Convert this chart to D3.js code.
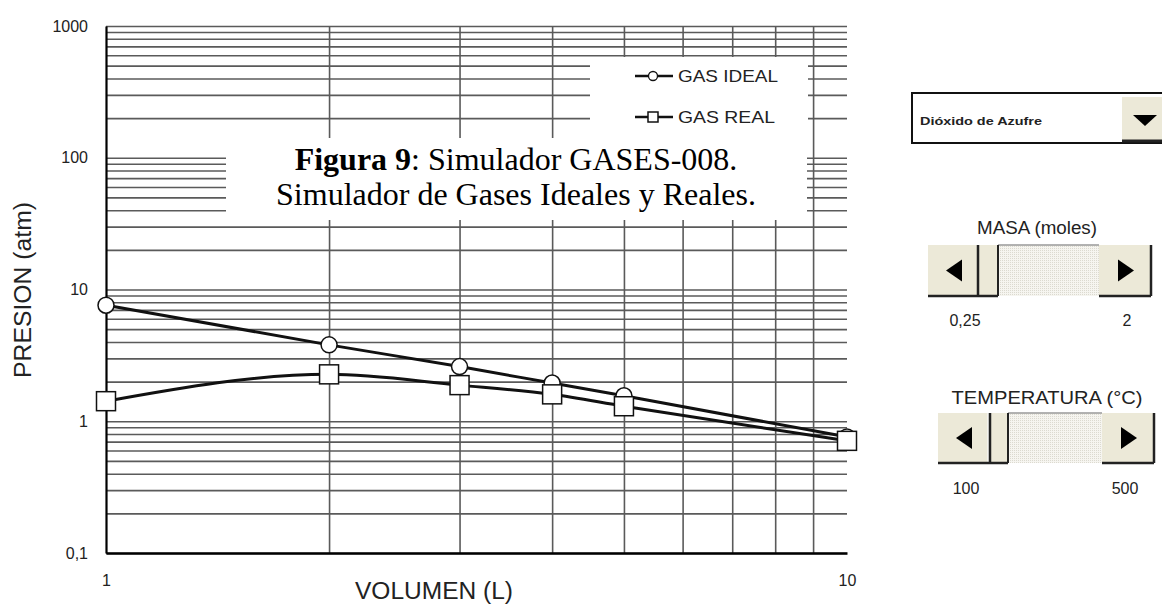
<!DOCTYPE html>
<html><head><meta charset="utf-8">
<script src="https://cdn.jsdelivr.net/npm/d3@7"></script>
<style>body{margin:0;background:#fff}svg{display:block}</style>
</head><body>
<svg id="c" width="1162" height="605"></svg>
<script>
const volumes=[1,2,3,4,5,10];
const idealP=[7.6,3.8,2.6,1.95,1.56,0.76];
const realP=[1.42,2.27,1.88,1.6,1.3,0.71];
const yTicks=[0.1,1,10,100,1000];
const yTickLabels=["0,1","1","10","100","1000"];
const xTicks=[1,10];
const xTickLabels=["1","10"];
const seriesNames=["GAS IDEAL","GAS REAL"];
const xTitle="VOLUMEN (L)";
const yTitle="PRESION (atm)";
const captionBold="Figura 9";
const captionRest=": Simulador GASES-008.";
const captionLine2="Simulador de Gases Ideales y Reales.";
const gasName="Dióxido de Azufre";
const masaTitle="MASA (moles)";
const masaRange=["0,25","2"];
const tempTitle="TEMPERATURA (°C)";
const tempRange=["100","500"];

const svg=d3.select("#c");
const L=106,R=847,T=26,B=553;
const x=d3.scaleLog().domain([1,10]).range([L,R]);
const y=d3.scaleLog().domain([0.1,1000]).range([B,T]);
const SANS="'Liberation Sans',Arial,sans-serif";

// grid values
const hVals=[];
[0.1,1,10,100].forEach(d=>{for(let k=1;k<=9;k++)hVals.push(+(d*k).toPrecision(3));});
hVals.push(1000);
const vVals=[2,3,4,5,6,7,8,9];

const grid=svg.append("g");
grid.append("g").attr("transform",`translate(${L},0)`)
  .call(d3.axisLeft(y).tickValues(hVals).tickSize(-(R-L)).tickFormat(""))
  .call(g=>g.select(".domain").remove())
  .call(g=>g.selectAll("line").attr("stroke","#5a5a5a").attr("stroke-width",1.6));
grid.append("g").attr("transform",`translate(0,${B})`)
  .call(d3.axisBottom(x).tickValues(vVals).tickSize(-(B-T)).tickFormat(""))
  .call(g=>g.select(".domain").remove())
  .call(g=>g.selectAll("line").attr("stroke","#5a5a5a").attr("stroke-width",1.6));

// legend box and caption box (white covers)
svg.append("rect").attr("x",590).attr("y",57).attr("width",218).attr("height",90).attr("fill","#fff");
svg.append("rect").attr("x",226).attr("y",138).attr("width",581).attr("height",82).attr("fill","#fff");

// axes
const ya=svg.append("g").attr("transform",`translate(${L},0)`)
  .call(d3.axisLeft(y).tickValues(yTicks).tickSize(0).tickPadding(18).tickFormat((d,i)=>yTickLabels[i]));
ya.select(".domain").attr("stroke","#000").attr("stroke-width",2.2);
ya.selectAll("text").attr("font-family",SANS).attr("font-size",16).attr("fill","#222");
const xa=svg.append("g").attr("transform",`translate(0,${B})`)
  .call(d3.axisBottom(x).tickValues(xTicks).tickSize(0).tickPadding(22).tickFormat((d,i)=>xTickLabels[i]));
xa.select(".domain").attr("stroke","#000").attr("stroke-width",2.5);
xa.selectAll("text").attr("font-family",SANS).attr("font-size",16).attr("fill","#222");

// titles
svg.append("text").attr("x",434).attr("y",599).attr("text-anchor","middle")
  .attr("font-family",SANS).attr("font-size",23).attr("fill","#222")
  .attr("textLength",158).attr("lengthAdjust","spacingAndGlyphs").text(xTitle);
svg.append("text").attr("transform","translate(31,290) rotate(-90)").attr("text-anchor","middle")
  .attr("font-family",SANS).attr("font-size",23).attr("fill","#222")
  .attr("textLength",176).attr("lengthAdjust","spacingAndGlyphs").text(yTitle);

// series
const line=d3.line().x(d=>x(d[0])).y(d=>y(d[1])).curve(d3.curveMonotoneX);
const idealData=volumes.map((v,i)=>[v,idealP[i]]);
const realData=volumes.map((v,i)=>[v,realP[i]]);
[idealData,realData].forEach(dat=>{
  svg.append("path").datum(dat).attr("d",line).attr("fill","none")
    .attr("stroke","#111").attr("stroke-width",3);
});
svg.append("g").selectAll("circle").data(idealData).join("circle")
  .attr("cx",d=>x(d[0])).attr("cy",d=>y(d[1])).attr("r",8)
  .attr("fill","#fff").attr("stroke","#111").attr("stroke-width",1.5);
svg.append("g").selectAll("rect").data(realData).join("rect")
  .attr("x",d=>x(d[0])-9.5).attr("y",d=>y(d[1])-9.5).attr("width",19).attr("height",19)
  .attr("fill","#fff").attr("stroke","#111").attr("stroke-width",1.5);

// legend
const lg=svg.append("g");
[76,117].forEach((ly,i)=>{
  lg.append("line").attr("x1",635).attr("x2",673).attr("y1",ly).attr("y2",ly).attr("stroke","#111").attr("stroke-width",2.5);
  if(i===0) lg.append("circle").attr("cx",653).attr("cy",ly).attr("r",4.5).attr("fill","#fff").attr("stroke","#111").attr("stroke-width",1.3);
  else lg.append("rect").attr("x",648).attr("y",ly-5).attr("width",10).attr("height",10).attr("fill","#fff").attr("stroke","#111").attr("stroke-width",1.5);
  lg.append("text").attr("x",678).attr("y",ly).attr("dy","0.36em").attr("font-family",SANS).attr("font-size",17)
    .attr("fill","#222").attr("textLength",i===0?100:97).attr("lengthAdjust","spacingAndGlyphs").text(seriesNames[i]);
});

// caption
const cap=svg.append("text").attr("x",516).attr("y",170).attr("text-anchor","middle")
  .attr("font-family","'Liberation Serif','Times New Roman',serif").attr("font-size",32).attr("fill","#000");
cap.append("tspan").attr("font-weight","bold").text(captionBold);
cap.append("tspan").text(captionRest);
svg.append("text").attr("x",516).attr("y",205).attr("text-anchor","middle")
  .attr("font-family","'Liberation Serif','Times New Roman',serif").attr("font-size",32).attr("fill","#000")
  .text(captionLine2);

// right panel: dropdown
const dd=svg.append("g");
dd.append("rect").attr("x",912).attr("y",93).attr("width",260).attr("height",50).attr("fill","#fff").attr("stroke","#111").attr("stroke-width",2);
dd.append("rect").attr("x",1122).attr("y",97).attr("width",45).attr("height",43).attr("fill","#ece9d8");
dd.append("line").attr("x1",1122).attr("x2",1162).attr("y1",141).attr("y2",141).attr("stroke","#222").attr("stroke-width",3);
dd.append("path").attr("d","M1133,115 L1157,115 L1145,126 Z").attr("fill","#000");
dd.append("text").attr("x",920).attr("y",121).attr("dy","0.35em").attr("font-family",SANS).attr("font-size",11)
  .attr("font-weight","bold").attr("fill","#222").attr("textLength",122).attr("lengthAdjust","spacingAndGlyphs").text(gasName);

// sliders
function slider(lx,rx,top,bot,thumb0,thumb1,title,titleX,titleW,titleY,rng,rngY,rngX){
  const g=svg.append("g");
  const midY=(top+bot)/2;
  g.append("rect").attr("x",lx).attr("y",top).attr("width",rx-lx).attr("height",bot-top).attr("fill","#f4f3ee");
  g.append("rect").attr("x",thumb1).attr("y",top).attr("width",rx-50-thumb1).attr("height",bot-top).attr("fill","url(#dots)");
  g.append("rect").attr("x",lx).attr("y",top).attr("width",49).attr("height",bot-top).attr("fill","#ece9d8");
  g.append("rect").attr("x",rx-52).attr("y",top).attr("width",52).attr("height",bot-top).attr("fill","#ece9d8");
  g.append("rect").attr("x",thumb0).attr("y",top).attr("width",thumb1-thumb0).attr("height",bot-top).attr("fill","#ece9d8");
  g.append("line").attr("x1",thumb1).attr("x2",rx-52).attr("y1",top).attr("y2",top).attr("stroke","#999").attr("stroke-width",1.5);
  g.append("line").attr("x1",thumb0).attr("x2",thumb0).attr("y1",top).attr("y2",bot).attr("stroke","#222").attr("stroke-width",2.5);
  g.append("line").attr("x1",thumb1).attr("x2",thumb1).attr("y1",top).attr("y2",bot).attr("stroke","#222").attr("stroke-width",2);
  g.append("line").attr("x1",rx).attr("x2",rx).attr("y1",top).attr("y2",bot).attr("stroke","#222").attr("stroke-width",2.5);
  g.append("line").attr("x1",lx).attr("x2",thumb1).attr("y1",bot).attr("y2",bot).attr("stroke","#222").attr("stroke-width",2.5);
  g.append("line").attr("x1",rx-52).attr("x2",rx).attr("y1",bot).attr("y2",bot).attr("stroke","#222").attr("stroke-width",2.5);
  const lc=lx+26, rc=rx-25;
  g.append("path").attr("d",`M${lc-8},${midY} L${lc+8},${midY-11} L${lc+8},${midY+11} Z`).attr("fill","#000");
  g.append("path").attr("d",`M${rc+8},${midY} L${rc-8},${midY-11} L${rc-8},${midY+11} Z`).attr("fill","#000");
  g.append("text").attr("x",titleX).attr("y",titleY).attr("dy","0.35em").attr("text-anchor","middle")
    .attr("font-family",SANS).attr("font-size",18).attr("fill","#222")
    .attr("textLength",titleW).attr("lengthAdjust","spacingAndGlyphs").text(title);
  rng.forEach((t,i)=>g.append("text").attr("x",rngX[i]).attr("y",rngY).attr("dy","0.35em").attr("text-anchor","middle")
    .attr("font-family",SANS).attr("font-size",16).attr("fill","#222").text(t));
}
const defs=svg.append("defs");
const pat=defs.append("pattern").attr("id","dots").attr("width",2).attr("height",2).attr("patternUnits","userSpaceOnUse");
pat.append("rect").attr("width",2).attr("height",2).attr("fill","#f6f5f0");
pat.append("rect").attr("width",1).attr("height",1).attr("fill","#dcdad0");

slider(928,1151,245,296,978,998,masaTitle,1037,120,228,masaRange,320,[965,1127]);
slider(938,1154,413,463,990,1008,tempTitle,1047,191,398,tempRange,488,[966,1125]);
</script>
</body></html>
